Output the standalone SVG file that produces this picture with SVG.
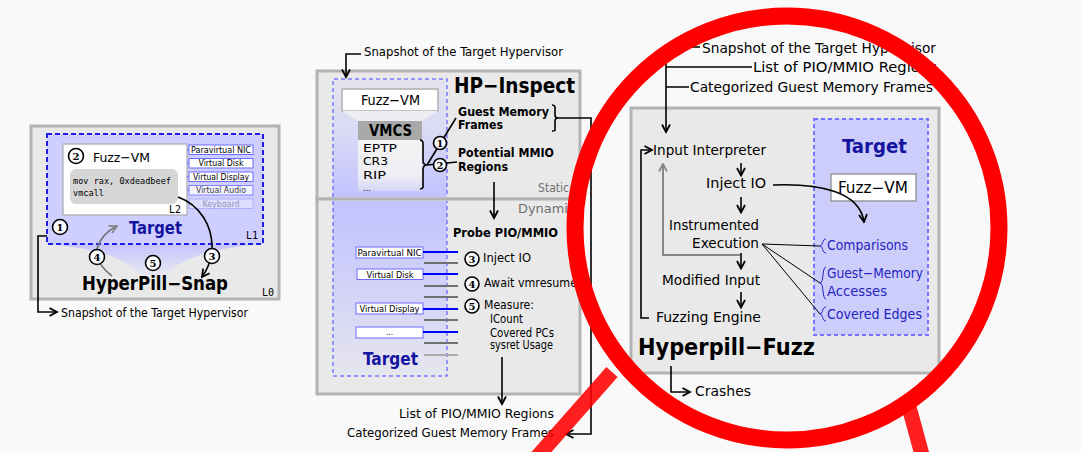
<svg xmlns="http://www.w3.org/2000/svg" width="1081" height="452" viewBox="0 0 1081 452">
<defs>
<style>
text{font-family:"DejaVu Sans Condensed","DejaVu Sans",sans-serif;fill:#000}
.b{font-weight:bold}
.mono{font-family:"DejaVu Sans Mono","Liberation Mono",monospace}
.tgt{font-weight:bold;fill:#1414a0}
.blu{fill:#2424c0}
.gry{fill:#707070}
.panel{fill:#e9e9e9;stroke:#b3b3b3;stroke-width:3}
.ln{fill:none;stroke:#000;stroke-width:1.6}
.thin{fill:none;stroke:#000;stroke-width:1}
.dev{fill:#fff;stroke:#6c6cff;stroke-width:1}
.devt{font-size:8px;text-anchor:middle}
.num circle{fill:#fbfbff;stroke:#000;stroke-width:1.6}
.num text{font-family:"DejaVu Serif","Liberation Serif",serif;font-weight:bold;text-anchor:middle;font-size:10px}
.io{stroke:#0000ff;stroke-width:2}
.gl{stroke:#707070;stroke-width:2}
</style>
<marker id="ah" viewBox="0 0 10 10" refX="8.5" refY="5" markerWidth="10" markerHeight="10" markerUnits="userSpaceOnUse" orient="auto"><path d="M1,1 L8.5,5 L1,9" fill="none" stroke="#000" stroke-width="1.8"/></marker>
<marker id="ahg" viewBox="0 0 10 10" refX="8.5" refY="5" markerWidth="10" markerHeight="10" markerUnits="userSpaceOnUse" orient="auto"><path d="M1,1 L8.5,5 L1,9" fill="none" stroke="#888" stroke-width="1.8"/></marker>
<linearGradient id="gFunnel" x1="0" y1="0" x2="0" y2="1"><stop offset="0" stop-color="#c4c4ff"/><stop offset="1" stop-color="#e9e9f0"/></linearGradient>
<linearGradient id="gTop" x1="0" y1="0" x2="0" y2="1"><stop offset="0" stop-color="#e4e4ee"/><stop offset="0.45" stop-color="#dadaf6"/><stop offset="1" stop-color="#c2c2ff"/></linearGradient>
<linearGradient id="gBot" x1="0" y1="0" x2="0" y2="1"><stop offset="0" stop-color="#c2c2ff"/><stop offset="0.5" stop-color="#d2d2f8"/><stop offset="1" stop-color="#e6e6ee"/></linearGradient>
<linearGradient id="gVmcs" x1="0" y1="0" x2="0" y2="1"><stop offset="0" stop-color="#f4f4f4"/><stop offset="0.7" stop-color="#ededf4"/><stop offset="1" stop-color="#d6d6f6"/></linearGradient>
</defs>

<rect width="1081" height="452" fill="#f9f9f9"/>

<!-- HyperPill-Snap -->
<g id="hyperpill-snap">
  <rect class="panel" x="31" y="126" width="248" height="173"/>
  <path d="M47,244 H263 Q185,250 166,276 H141 Q122,250 47,244 Z" fill="url(#gFunnel)"/>
  <rect x="47" y="134" width="216" height="110" fill="#cfcfff" stroke="#1e1ee6" stroke-width="2" stroke-dasharray="5,3"/>
  <rect x="63" y="144" width="124" height="71" fill="#fff" stroke="#aaa" stroke-width="1.2"/>
  <text x="93" y="162" font-size="13" textLength="57" lengthAdjust="spacingAndGlyphs">Fuzz−VM</text>
  <rect x="70" y="169" width="108" height="35" rx="6" fill="#d6d6d6"/>
  <text class="mono" x="73" y="184" font-size="8.6" textLength="98" lengthAdjust="spacingAndGlyphs">mov rax, 0xdeadbeef</text>
  <text class="mono" x="73" y="196" font-size="8.6">vmcall</text>
  <text class="mono" x="169" y="213" font-size="10">L2</text>
  <g id="snap-devices">
    <path d="M187,150 H189 M187,163 H189 M187,177 H189 M187,190 H189" stroke="#6c6cff" stroke-width="1"/>
    <rect class="dev" x="189" y="145" width="64" height="9.5"/>
    <text class="devt" x="221" y="152.8" textLength="60" lengthAdjust="spacingAndGlyphs">Paravirtual NIC</text>
    <rect class="dev" x="189" y="158.5" width="64" height="9.5"/>
    <text class="devt" x="221" y="166.3" textLength="45" lengthAdjust="spacingAndGlyphs">Virtual Disk</text>
    <rect class="dev" x="189" y="172" width="64" height="9.5"/>
    <text class="devt" x="221" y="179.8" textLength="56" lengthAdjust="spacingAndGlyphs">Virtual Display</text>
    <g opacity="0.75">
      <rect class="dev" x="189" y="185.5" width="64" height="9.5"/>
      <text class="devt" x="221" y="193.3" textLength="50" lengthAdjust="spacingAndGlyphs">Virtual Audio</text>
    </g>
    <g opacity="0.3">
      <rect class="dev" x="189" y="199" width="64" height="9.5"/>
      <text class="devt" x="221" y="206.8" textLength="37" lengthAdjust="spacingAndGlyphs">Keyboard</text>
    </g>
  </g>
  <text class="tgt" x="129" y="234" font-size="17" textLength="53" lengthAdjust="spacingAndGlyphs">Target</text>
  <text class="mono" x="246" y="239" font-size="10">L1</text>
  <text class="b" x="82" y="290" font-size="19" textLength="146" lengthAdjust="spacingAndGlyphs">HyperPill−Snap</text>
  <text class="mono" x="262" y="296" font-size="10">L0</text>
  <text x="61" y="317" font-size="12.5" textLength="187" lengthAdjust="spacingAndGlyphs">Snapshot of the Target Hypervisor</text>
</g>

<!-- HP-Inspect -->
<g id="hp-inspect">
  <text x="364" y="56" font-size="12.5" textLength="199" lengthAdjust="spacingAndGlyphs">Snapshot of the Target Hypervisor</text>
  <rect class="panel" x="317" y="71" width="263" height="128"/>
  <rect class="panel" x="317" y="199" width="263" height="195"/>
  <!-- static part -->
  <rect x="333" y="79" width="114" height="118" fill="url(#gTop)"/>
  <path d="M333,197 V79 H447 V197" fill="none" stroke="#7878ff" stroke-width="1.5" stroke-dasharray="4,3"/>
  <rect x="342" y="89" width="96" height="22" fill="#fff" stroke="#b0b0b0" stroke-width="1.5"/>
  <text x="361" y="105" font-size="14" textLength="59" lengthAdjust="spacingAndGlyphs">Fuzz−VM</text>
  <path d="M342,111 H438 L422,121 H358 Z" fill="#ededf3"/>
  <rect x="358" y="121" width="64" height="19" fill="#a9a9a9"/>
  <text class="b" x="369" y="136" font-size="15" textLength="43" lengthAdjust="spacingAndGlyphs">VMCS</text>
  <rect x="358" y="140" width="64" height="51" fill="url(#gVmcs)"/>
  <text x="363" y="152" font-size="11.2" textLength="34" lengthAdjust="spacingAndGlyphs">EPTP</text>
  <text x="363" y="165.3" font-size="11.2" textLength="25" lengthAdjust="spacingAndGlyphs">CR3</text>
  <text x="363" y="178.6" font-size="11.2" textLength="23" lengthAdjust="spacingAndGlyphs">RIP</text>
  <text x="363" y="190.5" font-size="9" fill="#888">...</text>
  <text class="b" x="454" y="93" font-size="21" textLength="121" lengthAdjust="spacingAndGlyphs">HP−Inspect</text>
  <text class="b" x="458" y="116" font-size="12.5" textLength="91" lengthAdjust="spacingAndGlyphs">Guest Memory</text>
  <text class="b" x="458" y="129" font-size="12.5" textLength="45" lengthAdjust="spacingAndGlyphs">Frames</text>
  <text class="b" x="458" y="157" font-size="12.5" textLength="96" lengthAdjust="spacingAndGlyphs">Potential MMIO</text>
  <text class="b" x="458" y="171" font-size="12.5" textLength="50" lengthAdjust="spacingAndGlyphs">Regions</text>
  <text class="gry" x="538" y="192" font-size="13" textLength="31" lengthAdjust="spacingAndGlyphs">Static</text>
  <!-- dynamic part -->
  <text class="gry" x="518" y="213" font-size="13" textLength="57" lengthAdjust="spacingAndGlyphs">Dynamic</text>
  <rect x="333" y="201" width="114" height="175" fill="url(#gBot)"/>
  <path d="M333,201 V376 H447 V201" fill="none" stroke="#7878ff" stroke-width="1.5" stroke-dasharray="4,3"/>
  <g id="inspect-devices">
    <rect class="dev" x="356" y="247" width="67" height="11"/>
    <text class="devt" x="389.5" y="255.8" font-size="9" textLength="64" lengthAdjust="spacingAndGlyphs">Paravirtual NIC</text>
    <rect class="dev" x="357" y="269" width="66" height="10.5"/>
    <text class="devt" x="390" y="277.5" font-size="9" textLength="47" lengthAdjust="spacingAndGlyphs">Virtual Disk</text>
    <rect class="dev" x="356" y="303" width="67" height="11"/>
    <text class="devt" x="389.5" y="311.8" font-size="9" textLength="60" lengthAdjust="spacingAndGlyphs">Virtual Display</text>
    <rect class="dev" x="356" y="327" width="67" height="11"/>
    <text class="devt" x="389.5" y="335" font-size="9">...</text>
  </g>
  <text class="tgt" x="363" y="365" font-size="18" textLength="55" lengthAdjust="spacingAndGlyphs">Target</text>
  <text class="b" x="453" y="237" font-size="12.5" textLength="105" lengthAdjust="spacingAndGlyphs">Probe PIO/MMIO</text>
  <text x="483" y="262" font-size="12" textLength="48" lengthAdjust="spacingAndGlyphs">Inject IO</text>
  <text x="484" y="287" font-size="12" textLength="93" lengthAdjust="spacingAndGlyphs">Await vmresume</text>
  <text x="484" y="309" font-size="12" textLength="50" lengthAdjust="spacingAndGlyphs">Measure:</text>
  <text x="490" y="323" font-size="11.5" textLength="33" lengthAdjust="spacingAndGlyphs">ICount</text>
  <text x="490" y="337" font-size="11.5" textLength="64" lengthAdjust="spacingAndGlyphs">Covered PCs</text>
  <text x="490" y="349" font-size="11.5" textLength="63" lengthAdjust="spacingAndGlyphs">sysret Usage</text>
  <text x="399" y="418" font-size="12.5" textLength="155" lengthAdjust="spacingAndGlyphs">List of PIO/MMIO Regions</text>
  <text x="347" y="437" font-size="12.5" textLength="207" lengthAdjust="spacingAndGlyphs">Categorized Guest Memory Frames</text>
</g>

<!-- Hyperpill-Fuzz -->
<g id="hyperpill-fuzz">
  <text x="702" y="53" font-size="14.5" textLength="234" lengthAdjust="spacingAndGlyphs">Snapshot of the Target Hypervisor</text>
  <text x="753" y="72" font-size="14.5" textLength="184" lengthAdjust="spacingAndGlyphs">List of PIO/MMIO Regions</text>
  <text x="690" y="92" font-size="14.5" textLength="243" lengthAdjust="spacingAndGlyphs">Categorized Guest Memory Frames</text>
  <rect class="panel" x="631" y="108" width="308" height="265"/>
  <rect x="814" y="119" width="114" height="216" fill="#cdcdfc" stroke="#7474ff" stroke-width="2" stroke-dasharray="4,3"/>
  <text class="tgt" x="842" y="153" font-size="20" textLength="65" lengthAdjust="spacingAndGlyphs">Target</text>
  <rect x="831" y="174" width="85" height="27" fill="#fff" stroke="#999" stroke-width="1.5"/>
  <text x="838" y="193" font-size="15" textLength="70" lengthAdjust="spacingAndGlyphs">Fuzz−VM</text>
  <text x="653" y="155" font-size="14.5" textLength="113" lengthAdjust="spacingAndGlyphs">Input Interpreter</text>
  <text x="706" y="188" font-size="14.5" textLength="60" lengthAdjust="spacingAndGlyphs">Inject IO</text>
  <text x="669" y="230" font-size="14.5" textLength="90" lengthAdjust="spacingAndGlyphs">Instrumented</text>
  <text x="692" y="248" font-size="14.5" textLength="67" lengthAdjust="spacingAndGlyphs">Execution</text>
  <text x="662" y="285" font-size="14.5" textLength="98" lengthAdjust="spacingAndGlyphs">Modified Input</text>
  <text x="656" y="322" font-size="14.5" textLength="105" lengthAdjust="spacingAndGlyphs">Fuzzing Engine</text>
  <g id="fuzz-feedback">
    <path d="M826,239 C822,239 823,246 820,246 C823,246 822,253 826,253" fill="none" stroke="#2424c0" stroke-width="1"/>
    <path d="M826,267 C822,267 824,283 820,283 C824,283 822,299 826,299" fill="none" stroke="#2424c0" stroke-width="1"/>
    <path d="M826,307 C822,307 823,314 820,314 C823,314 822,321 826,321" fill="none" stroke="#2424c0" stroke-width="1"/>
    <text class="blu" x="827" y="250" font-size="14" textLength="81" lengthAdjust="spacingAndGlyphs">Comparisons</text>
    <text class="blu" x="827" y="278" font-size="14" textLength="96" lengthAdjust="spacingAndGlyphs">Guest−Memory</text>
    <text class="blu" x="827" y="296" font-size="14" textLength="60" lengthAdjust="spacingAndGlyphs">Accesses</text>
    <text class="blu" x="827" y="319" font-size="14" textLength="95" lengthAdjust="spacingAndGlyphs">Covered Edges</text>
  </g>
  <text class="b" x="638" y="355" font-size="23" textLength="177" lengthAdjust="spacingAndGlyphs">Hyperpill−Fuzz</text>
  <text x="695" y="396" font-size="14.5" textLength="56" lengthAdjust="spacingAndGlyphs">Crashes</text>
</g>

<!-- connectors -->
<g id="connectors">
  <!-- snap -->
  <path class="ln" d="M47,236 H38 V312 H57" marker-end="url(#ah)"/>
  <path d="M112,276 Q94,262 97,249 Q101,234 117,226" fill="none" stroke="#777" stroke-width="1.6" marker-end="url(#ahg)"/>
  <path class="ln" d="M178,197 C200,205 213,226 212,250 C211,262 207,270 202,277" marker-end="url(#ah)"/>
  <!-- inspect -->
  <path class="ln" d="M361,54 H346 V77" marker-end="url(#ah)"/>
  <path class="ln" d="M420,140 C424,140 423,145 423,150 V160 C423,163 424,165 427,165 C424,165 423,167 423,170 V183 C423,186 424,189 420,189"/>
  <path class="ln" d="M427,165 L456,118 M427,165 L457,162"/>
  <path class="ln" d="M552,105 C556,105 555,108 555,111 V115 C555,117 556,118 558,118 C556,118 555,119 555,121 V127 C555,130 556,131 552,131"/>
  <path class="ln" d="M558,118 H591 V434 H566" marker-end="url(#ah)"/>
  <path class="ln" d="M494,182 V218" marker-end="url(#ah)"/>
  <path class="ln" d="M502,357 V404" marker-end="url(#ah)"/>
  <path class="io" d="M423,252 H458 M423,274 H458 M423,309 H458 M423,332 H458"/>
  <path class="gl" d="M424,263 H458 M424,286 H458 M424,297 H458 M424,320 H458 M424,343 H458"/>
  <path d="M424,355 H458" stroke="#aaa" stroke-width="2"/>
  <!-- fuzz -->
  <path class="ln" d="M700,47 H666 V132" marker-end="url(#ah)"/>
  <path class="ln" d="M666,67 H752 M666,87 H689"/>
  <path class="ln" d="M649,318 H641 V150 H652" marker-end="url(#ah)"/>
  <path d="M740,255 H663 V164" fill="none" stroke="#888" stroke-width="2" marker-end="url(#ahg)"/>
  <path class="ln" d="M741,163 V175.5" marker-end="url(#ah)"/>
  <path class="ln" d="M741,197 V212.5" marker-end="url(#ah)"/>
  <path class="ln" d="M741,253 V268.5" marker-end="url(#ah)"/>
  <path class="ln" d="M741,292 V307.5" marker-end="url(#ah)"/>
  <path class="ln" d="M773,185 C820,183 860,192 864,222" marker-end="url(#ah)"/>
  <path class="thin" d="M762,244 L820,246 M762,244 L820,283 M762,244 L820,314"/>
  <path class="ln" d="M671,366 V392 H690" marker-end="url(#ah)"/>
</g>

<!-- numbered steps -->
<g id="steps" class="num">
  <circle cx="76" cy="156" r="7.5"/><text x="76" y="159.5">2</text>
  <circle cx="60" cy="227" r="7.5"/><text x="60" y="230.5">1</text>
  <circle cx="97" cy="257" r="7.5"/><text x="97" y="260.5">4</text>
  <circle cx="153" cy="263" r="7.5"/><text x="153" y="266.5">5</text>
  <circle cx="212" cy="256" r="7.5"/><text x="212" y="259.5">3</text>
  <circle cx="440" cy="143" r="6.5"/><text x="440" y="146.5">1</text>
  <circle cx="440" cy="165" r="6.5"/><text x="440" y="168.5">2</text>
  <circle cx="472" cy="259" r="7"/><text x="472" y="262.5">3</text>
  <circle cx="472" cy="284" r="7"/><text x="472" y="287.5">4</text>
  <circle cx="472" cy="306" r="7"/><text x="472" y="309.5">5</text>
</g>

<!-- magnifying glass over the fuzzing stage -->
<g id="magnifier">
  <path d="M612,372 L530,465 M906,396 L924,462" stroke="#ff0000" stroke-opacity="0.88" stroke-width="15" fill="none"/>
  <circle cx="787" cy="228" r="212" fill="none" stroke="#ff0000" stroke-width="17"/>
</g>
</svg>
